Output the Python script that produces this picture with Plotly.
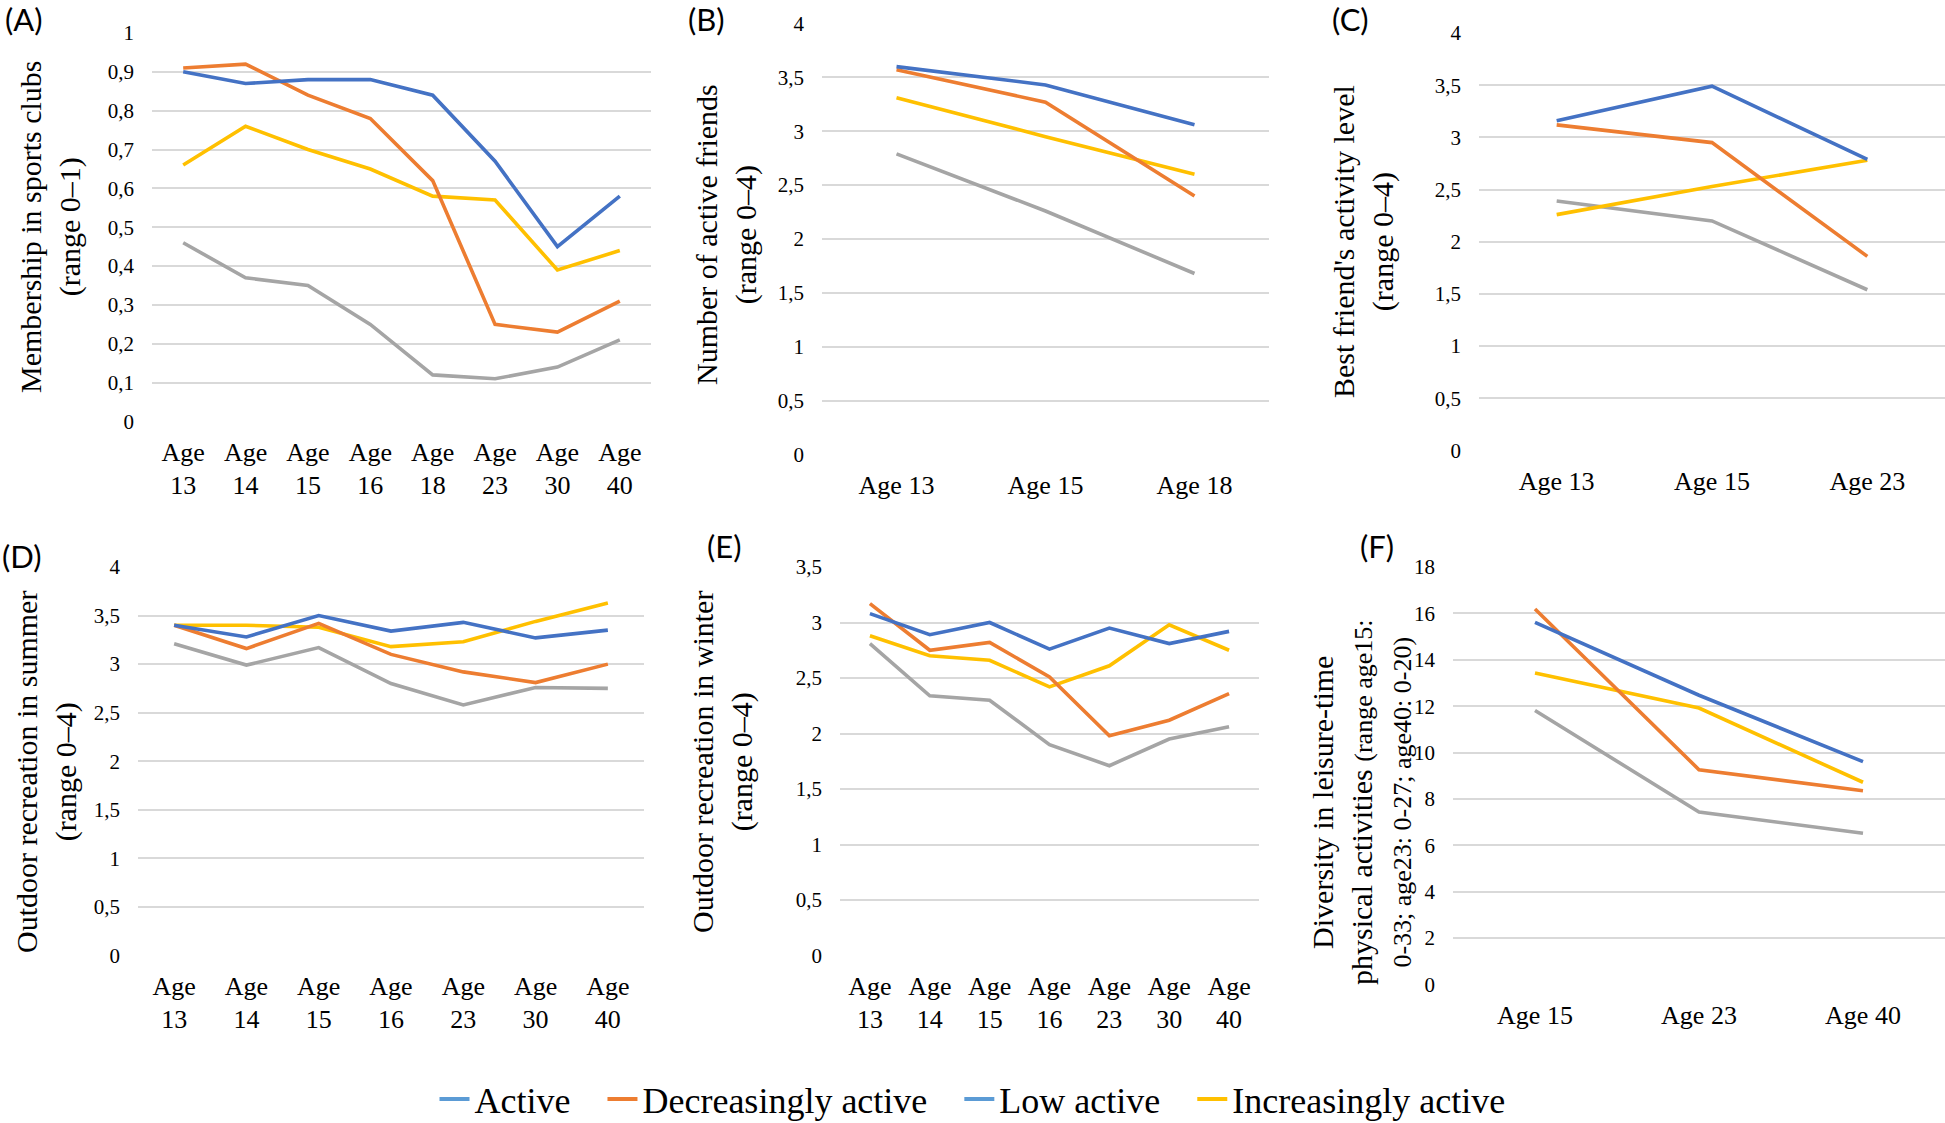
import plotly.graph_objects as go

W, H = 1945, 1123

# ---------------- data ----------------
ages_A = ["Age<br>13", "Age<br>14", "Age<br>15", "Age<br>16", "Age<br>18", "Age<br>23", "Age<br>30", "Age<br>40"]
A_active = [0.90, 0.87, 0.88, 0.88, 0.84, 0.67, 0.45, 0.58]
A_decr = [0.91, 0.92, 0.84, 0.78, 0.62, 0.25, 0.23, 0.31]
A_low = [0.46, 0.37, 0.35, 0.25, 0.12, 0.11, 0.14, 0.21]
A_incr = [0.66, 0.76, 0.70, 0.65, 0.58, 0.57, 0.39, 0.44]

ages_B = ["Age 13", "Age 15", "Age 18"]
B_active = [3.60, 3.43, 3.06]
B_decr = [3.57, 3.27, 2.40]
B_low = [2.79, 2.26, 1.68]
B_incr = [3.31, 2.95, 2.60]

ages_C = ["Age 13", "Age 15", "Age 23"]
C_active = [3.16, 3.49, 2.79]
C_decr = [3.12, 2.95, 1.86]
C_low = [2.39, 2.20, 1.54]
C_incr = [2.26, 2.53, 2.78]

ages_D = ["Age<br>13", "Age<br>14", "Age<br>15", "Age<br>16", "Age<br>23", "Age<br>30", "Age<br>40"]
D_active = [3.40, 3.28, 3.50, 3.34, 3.43, 3.27, 3.35]
D_decr = [3.40, 3.16, 3.42, 3.10, 2.92, 2.81, 3.00]
D_low = [3.21, 2.99, 3.17, 2.80, 2.58, 2.76, 2.75]
D_incr = [3.40, 3.40, 3.38, 3.18, 3.23, 3.44, 3.63]

ages_E = ["Age<br>13", "Age<br>14", "Age<br>15", "Age<br>16", "Age<br>23", "Age<br>30", "Age<br>40"]
E_active = [3.08, 2.89, 3.00, 2.76, 2.95, 2.81, 2.92]
E_decr = [3.17, 2.75, 2.82, 2.51, 1.98, 2.12, 2.36]
E_low = [2.81, 2.34, 2.30, 1.90, 1.71, 1.95, 2.06]
E_incr = [2.88, 2.70, 2.66, 2.42, 2.61, 2.98, 2.75]

ages_F = ["Age 15", "Age 23", "Age 40"]
F_active = [15.61, 12.47, 9.61]
F_decr = [16.19, 9.26, 8.35]
F_low = [11.81, 7.44, 6.52]
F_incr = [13.43, 11.92, 8.72]

series_names = ["Active", "Decreasingly active", "Low active", "Increasingly active"]
line_colors = ["#4472C4", "#ED7D31", "#A5A5A5", "#FFC000"]
legend_colors = ["#5B9BD5", "#ED7D31", "#5B9BD5", "#FFC000"]

# ---------------- layout helpers ----------------
def fx(p):
    return p / W

def fy(p):
    return 1 - p / H

SERIF = "Liberation Serif, Times New Roman, serif"

panels = [
    dict(cats=ages_A, data=[A_active, A_decr, A_low, A_incr], yr=[0, 1], dt=0.1,
         xd=(152, 651), yd=(33, 421.5),
         title="Membership in sports clubs<br>(range 0–1)", tpos=(51, 227),
         letter="(A)", lpos=(24, 19)),
    dict(cats=ages_B, data=[B_active, B_decr, B_low, B_incr], yr=[0, 4], dt=0.5,
         xd=(822, 1269), yd=(23.5, 454.5),
         title="Number of active friends<br>(range 0–4)", tpos=(727, 235),
         letter="(B)", lpos=(706, 19)),
    dict(cats=ages_C, data=[C_active, C_decr, C_low, C_incr], yr=[0, 4], dt=0.5,
         xd=(1479, 1945), yd=(33, 450.5),
         title="Best friend's activity level<br>(range 0–4)", tpos=(1364, 242),
         letter="(C)", lpos=(1350, 19)),
    dict(cats=ages_D, data=[D_active, D_decr, D_low, D_incr], yr=[0, 4], dt=0.5,
         xd=(138, 644), yd=(567, 955.5),
         title="Outdoor recreation in summer<br>(range 0–4)", tpos=(46, 772),
         letter="(D)", lpos=(22, 556)),
    dict(cats=ages_E, data=[E_active, E_decr, E_low, E_incr], yr=[0, 3.5], dt=0.5,
         xd=(840, 1259), yd=(567, 955.5),
         title="Outdoor recreation in winter<br>(range 0–4)", tpos=(722, 762),
         letter="(E)", lpos=(724, 546)),
    dict(cats=ages_F, data=[F_active, F_decr, F_low, F_incr], yr=[0, 18], dt=2,
         xd=(1453, 1945), yd=(567, 984.5),
         title=("Diversity in leisure-time<br>physical activities "
                "<span style='font-size:26px'>(range age15:</span><br>"
                "<span style='font-size:26px'>0-33; age23: 0-27; age40: 0-20)</span>"),
         tpos=(1361, 803),
         letter="(F)", lpos=(1377, 546)),
]

fig = go.Figure()
annotations = []
layout_axes = {}

for i, p in enumerate(panels):
    n = i + 1
    xa = "x" if n == 1 else f"x{n}"
    ya = "y" if n == 1 else f"y{n}"
    xkey = "xaxis" if n == 1 else f"xaxis{n}"
    ykey = "yaxis" if n == 1 else f"yaxis{n}"
    order = [2, 3, 1, 0]
    for k in order:
        fig.add_trace(go.Scatter(
            x=p["cats"], y=p["data"][k], mode="lines",
            line=dict(color=line_colors[k], width=3.6),
            name=series_names[k], showlegend=False,
            xaxis=xa, yaxis=ya, hoverinfo="x+y+name",
        ))
    ncat = len(p["cats"])
    layout_axes[xkey] = dict(
        domain=[fx(p["xd"][0]), fx(p["xd"][1])],
        anchor=ya, type="category", range=[-0.5, ncat - 0.5],
        showgrid=False, showline=False, zeroline=False, ticks="",
        tickfont=dict(family=SERIF, size=26, color="#000000"),
        ticklabelstandoff=12, fixedrange=True, automargin=False,
    )
    layout_axes[ykey] = dict(
        domain=[fy(p["yd"][1]), fy(p["yd"][0])],
        anchor=xa, range=p["yr"], dtick=p["dt"], tick0=0,
        showgrid=True, gridcolor="#D9D9D9", gridwidth=2,
        showline=False, zeroline=False, ticks="",
        tickfont=dict(family=SERIF, size=21, color="#000000"),
        ticklabelstandoff=17, fixedrange=True, automargin=False,
    )
    annotations.append(dict(
        text=p["title"], textangle=-90, x=fx(p["tpos"][0]), y=fy(p["tpos"][1]),
        xref="paper", yref="paper", xanchor="center", yanchor="middle",
        showarrow=False, font=dict(family=SERIF, size=30, color="#000000"),
    ))
    annotations.append(dict(
        text=p["letter"], x=fx(p["lpos"][0]), y=fy(p["lpos"][1]),
        xref="paper", yref="paper", xanchor="center", yanchor="middle",
        showarrow=False, font=dict(family="Lato, Open Sans, sans-serif", size=31, color="#000000"),
    ))

# legend-only entries
pad = "\u00a0\u00a0\u00a0"
legend_labels = ["Active" + pad, "Decreasingly active" + pad, "Low active" + pad, "Increasingly active"]
for name, col in zip(legend_labels, legend_colors):
    fig.add_trace(go.Scatter(
        x=[None], y=[None], mode="lines", name=name,
        line=dict(color=col, width=4), showlegend=True,
    ))

fig.update_layout(
    width=W, height=H, autosize=False,
    margin=dict(l=0, r=0, t=0, b=0, autoexpand=False),
    paper_bgcolor="white", plot_bgcolor="white",
    separators=", ",
    annotations=annotations,
    legend=dict(
        orientation="h", x=0.5, xanchor="center", y=fy(1099), yanchor="middle",
        font=dict(family=SERIF, size=36, color="#000000"),
        itemwidth=30, tracegroupgap=0, bgcolor="rgba(0,0,0,0)",
    ),
    **layout_axes,
)

fig.write_html(
    "out.html",
    config={"displayModeBar": False},
    post_script="document.body.style.margin='0';document.body.style.padding='0';document.body.style.overflow='hidden';",
)
